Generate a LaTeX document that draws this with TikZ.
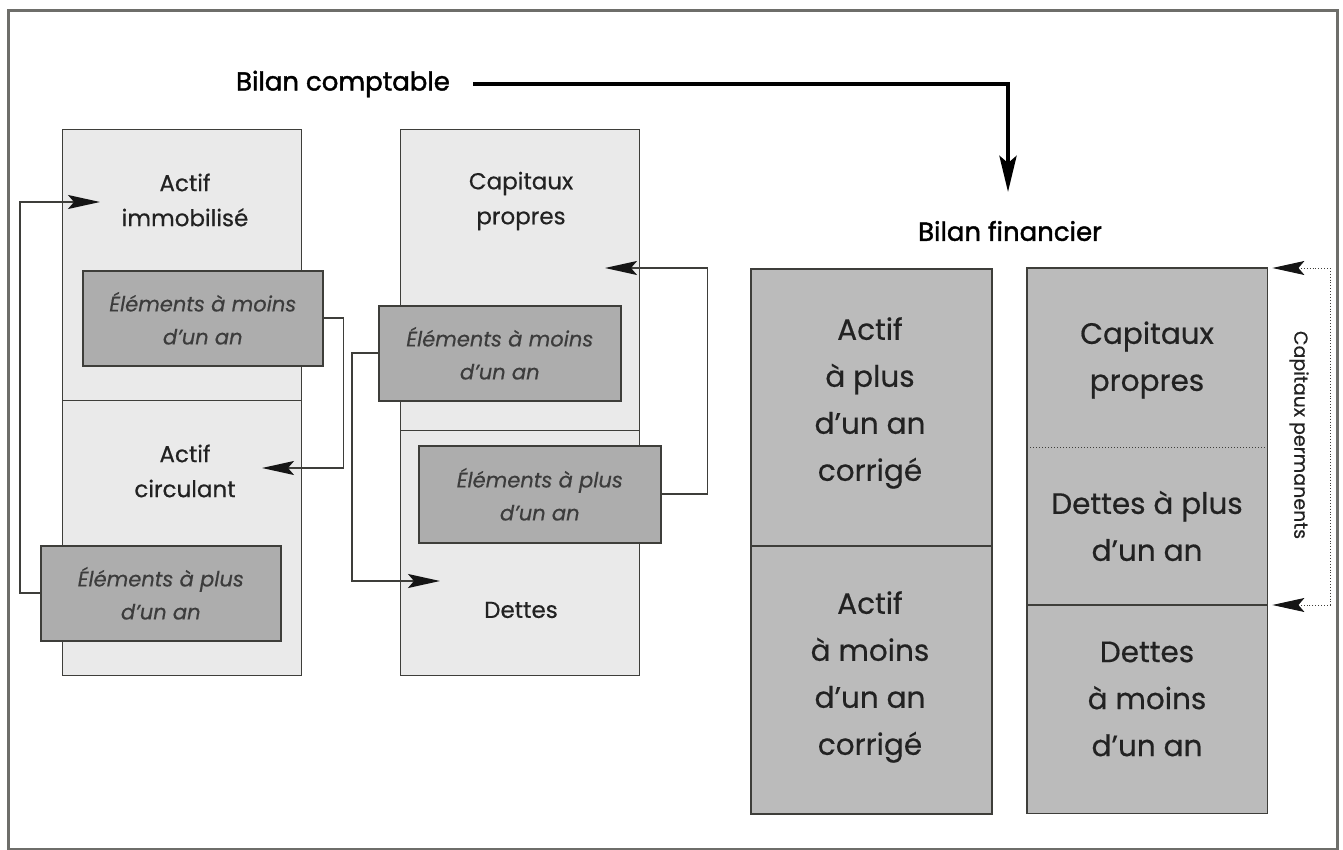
\documentclass[tikz,border=0pt]{standalone}
\usepackage{fontspec}
\setmainfont{Poppins}[FakeBold=0.5]
\newfontfamily\headfont{Poppins}[FakeBold=1.6]
\usetikzlibrary{arrows.meta,calc}
\definecolor{colfill}{HTML}{EAEAEA}
\definecolor{boxfill}{HTML}{ADADAD}
\definecolor{rfill}{HTML}{BBBBBB}
\definecolor{edge}{HTML}{3E3E3A}
\definecolor{ink}{HTML}{222222}
\definecolor{iink}{HTML}{3C3C3C}
\definecolor{framec}{HTML}{6E6E6A}
\definecolor{tipc}{HTML}{151515}
\begin{document}
\begin{tikzpicture}[x=1pt,y=-1pt,
  colcell/.style={draw=edge, line width=1.4pt, fill=colfill, minimum width=239pt, inner sep=0pt, anchor=north west},
  subbox/.style={draw=edge, line width=1.6pt, fill=boxfill, minimum width=240pt, minimum height=95pt, inner sep=0pt, anchor=north west},
  rcell/.style={fill=rfill, minimum width=240pt, inner sep=0pt, anchor=north west},
  lbl/.style={text=ink, align=center, font=\fontsize{23}{35}\selectfont},
  ilbl/.style={text=iink, align=center, font=\fontsize{21}{33}\selectfont\itshape},
  rlbl/.style={text=ink, align=center, font=\fontsize{29.5}{47}\selectfont},
  head/.style={text=black, font=\headfont\fontsize{26}{30}\selectfont},
  conn/.style={draw=edge, line width=1.7pt, -{Stealth[length=32pt,width=14pt,inset=6pt,color=tipc]}},
  bigconn/.style={draw=black, line width=4.5pt, -{Stealth[length=36pt,width=17pt,inset=7pt]}},
  perm/.style={draw=edge, line width=0.9pt, dotted, {Stealth[length=32pt,width=14pt,inset=6pt,color=tipc]}-{Stealth[length=32pt,width=14pt,inset=6pt,color=tipc]}}
]
\useasboundingbox (0,0) rectangle (1343,850);
\draw[framec, line width=3pt] (8,11) rectangle (1337,849);

% headings
\node[head] (bc) at (343,84) {Bilan comptable};
\node[head] (bf) at (1010,231) {Bilan financier};
\coordinate (t5) at (1008,192);
\draw[bigconn] ([xshift=20pt]bc.east) -| (t5);

% left column
\node[colcell, minimum height=271pt] (aimm) at (62,129) {};
\node[colcell, minimum height=275pt] (acirc) at (62,400) {};
\node[lbl] (taimm) at (185,200) {Actif\\immobilisé};
\node[lbl] (tacirc) at (185,471) {Actif\\circulant};
\node[subbox] (lm) at (82,270) {};
\node[ilbl] at (lm.center) {Éléments à moins\\d’un an};
\node[subbox] (lp) at (40,545) {};
\node[ilbl] at (lp.center) {Éléments à plus\\d’un an};

\coordinate (t1) at (100,202);
\coordinate (t2) at (262,468);
\draw[conn] (lp.west) -- ++(-20,0) |- (t1);
\draw[conn] (lm.east) -- ++(20,0) |- (t2);

% middle column
\node[colcell, minimum height=301pt] (cp) at (400,129) {};
\node[colcell, minimum height=245pt] (det) at (400,430) {};
\node[lbl] (tcp) at (521,201) {Capitaux\\propres};
\node[lbl] (tdet) at (521,610) {Dettes};
\node[subbox, minimum width=242pt] (mm) at (378,305) {};
\node[ilbl] at (mm.center) {Éléments à moins\\d’un an};
\node[subbox, minimum width=242pt, minimum height=97pt] (mp) at (418,445) {};
\node[ilbl] at (mp.center) {Éléments à plus\\d’un an};

\coordinate (t3) at (440,581);
\coordinate (t4) at (605,268);
\draw[conn] (mm.west) -- ++(-26,0) |- (t3);
\draw[conn] (mp.east) -- ++(46,0) |- (t4);

% bilan financier, left
\node[rcell, draw=edge, line width=1.6pt, minimum width=241pt, minimum height=277pt] (apl) at (750,268) {};
\node[rcell, draw=edge, line width=1.6pt, minimum width=241pt, minimum height=268pt] (amo) at (750,545) {};
\node[rlbl] at (870,403) {Actif\\à plus\\d’un an\\corrigé};
\node[rlbl] at (870,677) {Actif\\à moins\\d’un an\\corrigé};

% bilan financier, right
\node[rcell, minimum height=179pt] (rcp) at (1027,268) {};
\node[rcell, minimum height=158pt] (rdp) at (1027,447) {};
\node[rcell, minimum height=208pt] (rdm) at (1027,605) {};
\draw[edge, line width=1.6pt] (rcp.north west) rectangle (rdm.south east);
\draw[edge, line width=1pt, dotted] (rdp.north west) -- (rdp.north east);
\draw[edge, line width=1.6pt] (rdm.north west) -- (rdm.north east);
\node[rlbl] at (1147,360) {Capitaux\\propres};
\node[rlbl] at (1147,526) {Dettes à plus\\d’un an};
\node[rlbl] at (1147,699) {Dettes\\à moins\\d’un an};

\draw[perm] ([xshift=5pt]rcp.north east) -- (1330,268) |- ([xshift=5pt]rdm.north east);
\node[text=ink, rotate=-90, font=\fontsize{19}{22}\selectfont] (cperm) at (1299,435) {Capitaux permanents};
\end{tikzpicture}
\end{document}
